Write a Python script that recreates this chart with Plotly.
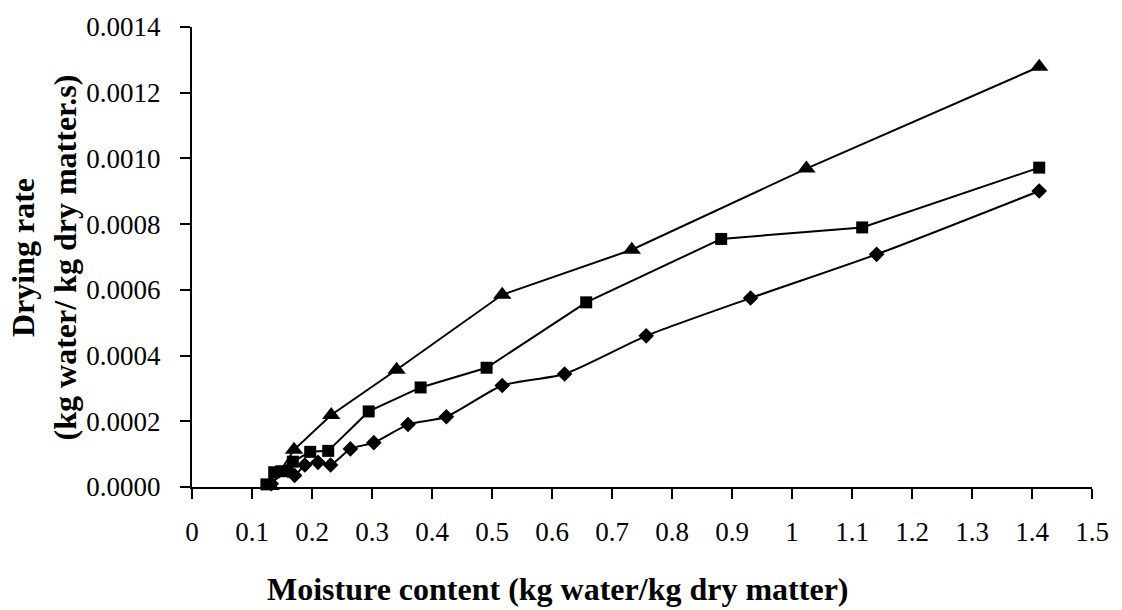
import plotly.graph_objects as go

# Moisture content (kg water / kg dry matter) and drying rate for three drying runs
diamond_x = [0.132, 0.160, 0.171, 0.188, 0.210, 0.231, 0.264, 0.303, 0.360, 0.424,
             0.517, 0.621, 0.757, 0.931, 1.141, 1.412]
diamond_y = [0.000010, 0.000050, 0.000035, 0.000067, 0.000075, 0.000067, 0.000116,
             0.000135, 0.000190, 0.000214, 0.000309, 0.000344, 0.000460, 0.000575,
             0.000708, 0.000901]

square_x = [0.124, 0.137, 0.149, 0.168, 0.197, 0.227, 0.2945, 0.381, 0.491, 0.657,
            0.882, 1.117, 1.412]
square_y = [0.000008, 0.000045, 0.000048, 0.000077, 0.000107, 0.000110, 0.000230,
            0.000303, 0.000363, 0.000562, 0.000755, 0.000790, 0.000972]

triangle_x = [0.131, 0.170, 0.232, 0.341, 0.517, 0.733, 1.024, 1.412]
triangle_y = [0.000003, 0.000113, 0.000219, 0.000357, 0.000585, 0.000722, 0.000969,
              0.001279]

x_title = "Moisture content (kg water/kg dry matter)"
y_title = "Drying rate<br>(kg water/ kg dry matter.s)"

FONT = "Liberation Serif"

fig = go.Figure()

fig.add_trace(go.Scatter(
    x=diamond_x, y=diamond_y, mode="lines+markers",
    line=dict(color="black", width=2, shape="spline", smoothing=0.6),
    marker=dict(symbol="diamond", size=12, color="black"),
    cliponaxis=False, showlegend=False,
))
fig.add_trace(go.Scatter(
    x=square_x, y=square_y, mode="lines+markers",
    line=dict(color="black", width=2),
    marker=dict(symbol="square", size=12, color="black"),
    cliponaxis=False, showlegend=False,
))
fig.add_trace(go.Scatter(
    x=triangle_x, y=triangle_y, mode="lines+markers",
    line=dict(color="black", width=2),
    marker=dict(symbol="triangle-up", size=16, color="black"),
    cliponaxis=False, showlegend=False,
))

fig.update_layout(
    width=1122, height=610,
    margin=dict(l=192, r=30, t=22, b=123),
    paper_bgcolor="white", plot_bgcolor="white",
    font=dict(family=FONT, color="black", size=27),
    xaxis=dict(
        range=[0, 1.5], dtick=0.1, tick0=0,
        showgrid=False, zeroline=False,
        showline=True, linecolor="black", linewidth=2,
        ticks="outside", ticklen=10, tickwidth=2, tickcolor="black",
        ticklabelstandoff=10,
        tickfont=dict(family=FONT, size=27, color="black"),
    ),
    yaxis=dict(
        range=[0, 0.0014], dtick=0.0002, tick0=0, tickformat=".4f",
        showgrid=False, zeroline=False,
        showline=True, linecolor="black", linewidth=2,
        ticks="outside", ticklen=10, tickwidth=2, tickcolor="black",
        ticklabelstandoff=14,
        tickfont=dict(family=FONT, size=27, color="black"),
    ),
    annotations=[
        dict(text="<b>" + x_title + "</b>", xref="paper", yref="paper",
             x=0.4056, y=-0.222, xanchor="center", yanchor="middle",
             showarrow=False, font=dict(family=FONT, size=32, color="black")),
        dict(text="<b>" + y_title + "</b>", xref="paper", yref="paper",
             x=-0.164, y=0.5, xanchor="center", yanchor="middle",
             textangle=-90, showarrow=False,
             font=dict(family=FONT, size=32, color="black")),
    ],
)

fig.write_html("out.html")
